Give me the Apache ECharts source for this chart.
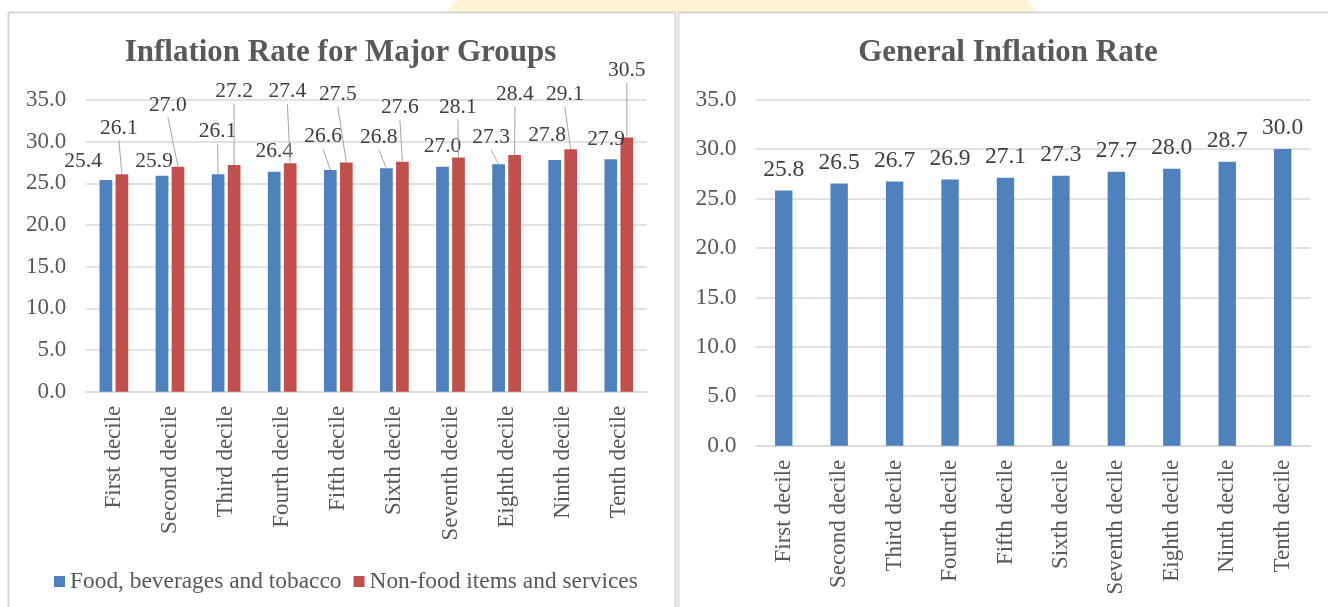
<!DOCTYPE html>
<html><head><meta charset="utf-8">
<script src="https://cdn.jsdelivr.net/npm/echarts@6/dist/echarts.min.js"></script>
<style>html,body{margin:0;padding:0;background:#fff}#c{width:1328px;height:607px}</style>
</head><body><div id="c"></div>
<script>
const categories = ['First decile','Second decile','Third decile','Fourth decile','Fifth decile','Sixth decile','Seventh decile','Eighth decile','Ninth decile','Tenth decile'];
const foodValues = [25.4,25.9,26.1,26.4,26.6,26.8,27.0,27.3,27.8,27.9];
const nonFoodValues = [26.1,27.0,27.2,27.4,27.5,27.6,28.1,28.4,29.1,30.5];
const generalValues = [25.8,26.5,26.7,26.9,27.1,27.3,27.7,28.0,28.7,30.0];
const seriesNames = ['Food, beverages and tobacco','Non-food items and services'];
const titles = ['Inflation Rate for Major Groups','General Inflation Rate'];

// label placement (style only): label centre relative to the bar's top centre, in px
const foodLabelPos = [[-22.8,-20],[-7.9,-16.4],[-0.5,-44.2],[0,-21.7],[-7.2,-35],[-7.6,-32.7],[0,-21.7],[-7.5,-28.2],[-7.6,-26],[-4.7,-21.7]];
const foodLeader = [false,false,true,false,true,true,false,true,false,false];
const nonFoodLabelPos = [[-3,-47.7],[-10.1,-63.4],[0,-75],[-2.8,-73.4],[-8.4,-69.5],[-2.5,-56.2],[-0.6,-52],[0.3,-62.3],[-5.8,-56.2],[0,-68.7]];
const nonFoodLeader = [true,true,true,true,true,true,true,true,true,true];

const FONT = 'Liberation Serif';
const TXT = '#595959';
const GRID = '#d9d9d9';
const BAR_W = 12.7, BAR_GAP = 3.3;
const SHIFT = (BAR_W + BAR_GAP) / 2;
const LABEL_FS = 21.5;
const LABEL_BASE = 5 + LABEL_FS / 2 + 2;

function items(vals, pos) {
  return vals.map((v, i) => ({ value: v, label: { offset: [pos[i][0], pos[i][1] + LABEL_BASE] } }));
}
function leaderSeries(vals, pos, show, sign) {
  return {
    type: 'custom', xAxisIndex: 0, yAxisIndex: 0, z: 3, silent: true,
    data: vals.map((v, i) => [i, v]),
    renderItem: (params, api) => {
      const i = api.value(0);
      if (!show[i]) return null;
      const p = api.coord([i, api.value(1)]);
      const bx = p[0] + sign * SHIFT, by = p[1];
      return { type: 'line', shape: { x1: bx, y1: by, x2: bx + pos[i][0], y2: by + pos[i][1] + 14 },
               style: { stroke: '#a6a6a6', lineWidth: 1 } };
    }
  };
}

const chart = echarts.init(document.getElementById('c'));
const yAxisBase = (gi) => ({
  type: 'value', gridIndex: gi, min: 0, max: 35, interval: 5,
  axisLine: { show: false }, axisTick: { show: false },
  splitLine: { lineStyle: { color: GRID, width: 1.5 } },
  axisLabel: { fontFamily: FONT, fontSize: gi === 0 ? 23 : 23.5, color: TXT, margin: 19.5, formatter: v => v.toFixed(1) }
});
const xAxisBase = (gi) => ({
  type: 'category', gridIndex: gi, data: categories,
  axisLine: { lineStyle: { color: GRID, width: 1.5 } }, axisTick: { show: false },
  axisLabel: { rotate: 90, fontFamily: FONT, fontSize: 23, color: TXT, margin: 14, interval: 0 }
});
const labelStyle = (fs) => ({ show: true, position: 'top', distance: 5, fontFamily: FONT, fontSize: fs, color: '#404040', formatter: p => p.value.toFixed(1) });

chart.setOption({
  animation: false,
  backgroundColor: '#fff',
  graphic: [
    { type: 'circle', z: -110, shape: { cx: 742, cy: 300, r: 413 }, style: { fill: '#fff3d4' } },
    { type: 'rect', z: -105, shape: { x: 0, y: 12.5, width: 1328, height: 600 }, style: { fill: '#fff' } },
    { type: 'rect', z: -100, shape: { x: 8.5, y: 12.5, width: 667, height: 620 }, style: { fill: '#fff', stroke: '#d6d6d6', lineWidth: 1.8 } },
    { type: 'rect', z: -100, shape: { x: 678.5, y: 12.5, width: 670, height: 620 }, style: { fill: '#fff', stroke: '#d6d6d6', lineWidth: 1.8 } }
  ],
  title: [
    { text: titles[0], left: 335.5, top: 32, textAlign: 'center', textStyle: { fontFamily: FONT, fontSize: 31, fontWeight: 'bold', color: TXT } },
    { text: titles[1], left: 1003, top: 32, textAlign: 'center', textStyle: { fontFamily: FONT, fontSize: 31, fontWeight: 'bold', color: TXT } }
  ],
  legend: {
    data: seriesNames, left: 49, top: 565, icon: 'rect', itemWidth: 11, itemHeight: 11, itemGap: 12,
    textStyle: { fontFamily: FONT, fontSize: 23.4, color: TXT }
  },
  grid: [
    { left: 85.85, right: 1328 - 646.85, top: 100, height: 291.7 },
    { left: 756, right: 1328 - 1310.4, top: 99.5, height: 346.2 }
  ],
  xAxis: [xAxisBase(0), xAxisBase(1)],
  yAxis: [yAxisBase(0), yAxisBase(1)],
  series: [
    { name: seriesNames[0], type: 'bar', xAxisIndex: 0, yAxisIndex: 0, barWidth: BAR_W, barGap: (BAR_GAP / BAR_W * 100) + '%',
      itemStyle: { color: '#4f81bd' }, data: items(foodValues, foodLabelPos), label: labelStyle(LABEL_FS), z: 2 },
    { name: seriesNames[1], type: 'bar', xAxisIndex: 0, yAxisIndex: 0, barWidth: BAR_W, barGap: (BAR_GAP / BAR_W * 100) + '%',
      itemStyle: { color: '#c0504d' }, data: items(nonFoodValues, nonFoodLabelPos), label: labelStyle(LABEL_FS), z: 2 },
    leaderSeries(foodValues, foodLabelPos, foodLeader, -1),
    leaderSeries(nonFoodValues, nonFoodLabelPos, nonFoodLeader, 1),
    { name: 'General', type: 'bar', xAxisIndex: 1, yAxisIndex: 1, barWidth: 17.4,
      itemStyle: { color: '#4f81bd' }, data: generalValues,
      label: Object.assign(labelStyle(23.5), { distance: 9 }) }
  ]
});
</script></body></html>
